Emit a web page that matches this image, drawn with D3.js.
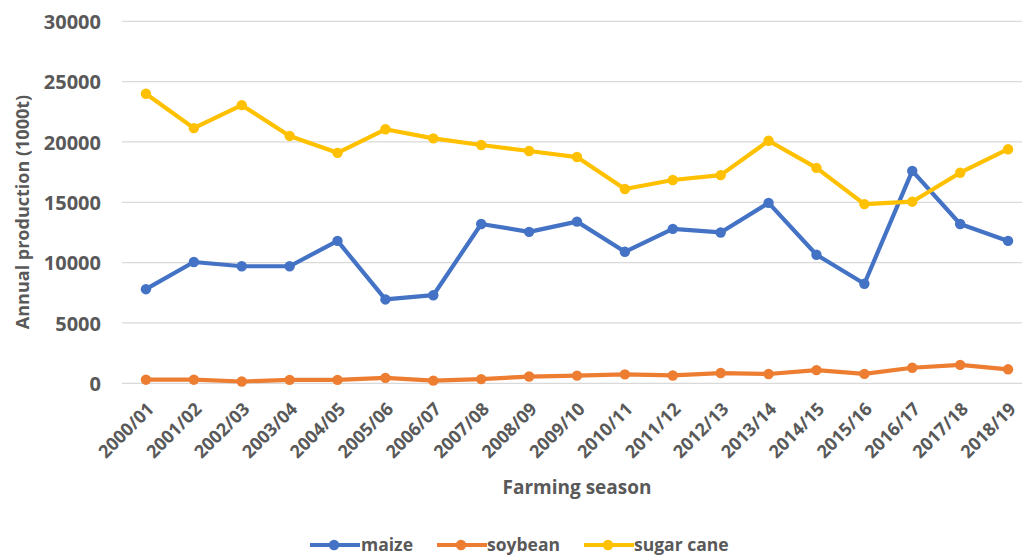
<!DOCTYPE html>
<html>
<head>
<meta charset="utf-8">
<script src="https://cdn.jsdelivr.net/npm/d3@7"></script>
<style>
  html, body { margin: 0; padding: 0; background: #fff; }
  svg text { font-family: "Open Sans", "Liberation Sans", sans-serif; font-weight: bold; fill: #595959; }
</style>
</head>
<body>
<svg id="chart" width="1022" height="557"></svg>
<script>
// Farming seasons on the x axis
const seasons = ["2000/01","2001/02","2002/03","2003/04","2004/05","2005/06","2006/07",
  "2007/08","2008/09","2009/10","2010/11","2011/12","2012/13","2013/14","2014/15",
  "2015/16","2016/17","2017/18","2018/19"];

// Annual production, 1000 t
const maize = [7800,10050,9700,9700,11800,6950,7300,13200,12550,13400,10900,12800,12500,14950,10650,8250,17600,13200,11800];
const soybean = [300,300,150,280,280,450,220,350,560,640,740,650,850,770,1090,780,1290,1530,1160];
const sugarCane = [24000,21150,23050,20500,19100,21050,20300,19750,19250,18750,16100,16850,17250,20100,17850,14850,15050,17450,19400];

const yTicks = [0,5000,10000,15000,20000,25000,30000];

const seriesNames = ["maize","soybean","sugar cane"];
const seriesColors = ["#4472C4","#ED7D31","#FFC000"];
const series = [maize, soybean, sugarCane].map((values, i) => ({
  name: seriesNames[i], color: seriesColors[i], values
}));

const svg = d3.select("#chart");
const plot = { left: 122, right: 1032, top: 21.3, bottom: 383.3 };

const x = d3.scaleBand().domain(seasons).range([plot.left, plot.right]);
const y = d3.scaleLinear().domain([0, 30000]).range([plot.bottom, plot.top]);

// Horizontal gridlines
svg.append("g")
  .selectAll("line")
  .data(yTicks)
  .join("line")
  .attr("x1", plot.left).attr("x2", 1022)
  .attr("y1", d => y(d)).attr("y2", d => y(d))
  .attr("stroke", "#d9d9d9").attr("stroke-width", 1.3);

// Y axis labels
const yAxis = svg.append("g")
  .attr("transform", `translate(${plot.left},0)`)
  .call(d3.axisLeft(y).tickValues(yTicks).tickSize(0).tickPadding(21).tickFormat(d3.format("d")));
yAxis.select(".domain").remove();
yAxis.selectAll("text").style("font-size", "20px").attr("dy", "0.36em");

// X axis labels, rotated
const xAxis = svg.append("g")
  .attr("transform", `translate(0,${plot.bottom})`)
  .call(d3.axisBottom(x).tickSize(0).tickPadding(0));
xAxis.select(".domain").remove();
xAxis.selectAll("text")
  .style("font-size", "18px")
  .attr("text-anchor", "end")
  .attr("dy", "0")
  .attr("transform", "translate(9,27) rotate(-45)");

// Axis titles
svg.append("text")
  .attr("transform", "translate(29,212) rotate(-90)")
  .attr("text-anchor", "middle")
  .style("font-size", "18px")
  .text("Annual  production (1000t)");

svg.append("text")
  .attr("x", 577).attr("y", 494)
  .attr("text-anchor", "middle")
  .style("font-size", "19px")
  .text("Farming season");

// Lines and markers
const line = d3.line()
  .x((d, i) => x(seasons[i]) + x.bandwidth() / 2)
  .y(d => y(d));

const groups = svg.append("g")
  .selectAll("g")
  .data(series)
  .join("g");

groups.append("path")
  .attr("d", d => line(d.values))
  .attr("fill", "none")
  .attr("stroke", d => d.color)
  .attr("stroke-width", 4.2)
  .attr("stroke-linejoin", "round");

groups.selectAll("circle")
  .data(d => d.values.map((v, i) => ({ v, i, color: d.color })))
  .join("circle")
  .attr("cx", d => x(seasons[d.i]) + x.bandwidth() / 2)
  .attr("cy", d => y(d.v))
  .attr("r", 5.2)
  .attr("fill", d => d.color);

// Legend
const legendItems = [
  { x: 310, textX: 361 },
  { x: 437, textX: 487 },
  { x: 584, textX: 634 }
];
const legend = svg.append("g")
  .selectAll("g")
  .data(series)
  .join("g")
  .attr("transform", (d, i) => `translate(${legendItems[i].x},545)`);

legend.append("line")
  .attr("x1", 0).attr("x2", 50)
  .attr("stroke", d => d.color).attr("stroke-width", 4.2);
legend.append("circle")
  .attr("cx", 24).attr("r", 5.2)
  .attr("fill", d => d.color);
legend.append("text")
  .attr("x", (d, i) => legendItems[i].textX - legendItems[i].x)
  .attr("dy", "0.36em")
  .style("font-size", "17.5px")
  .text(d => d.name);
</script>
</body>
</html>
